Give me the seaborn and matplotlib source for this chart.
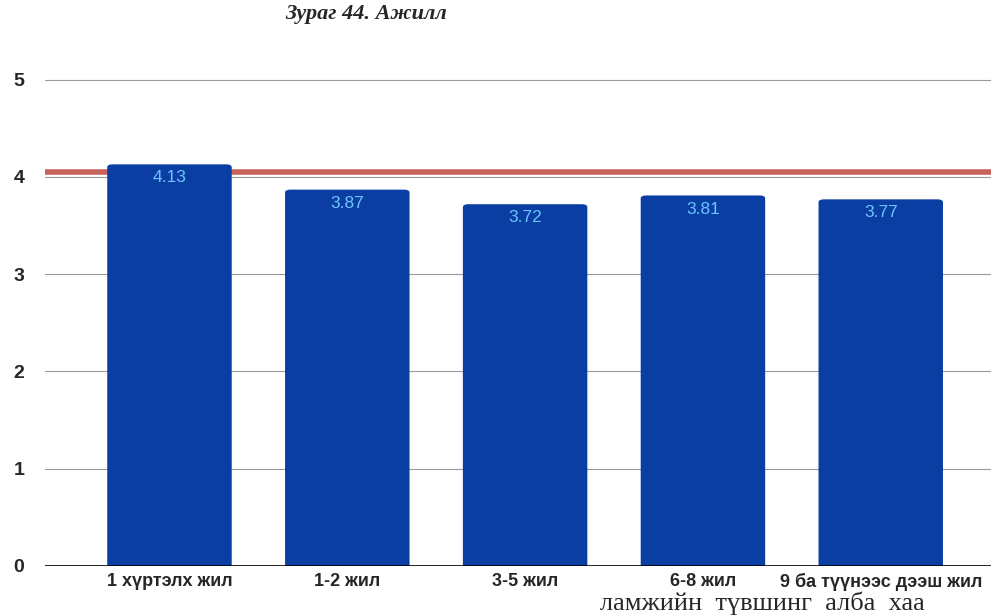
import matplotlib
matplotlib.use("Agg")
import matplotlib.pyplot as plt
import seaborn as sns
import pandas as pd
from matplotlib.patches import FancyBboxPatch

categories = ["1 хүртэлх жил", "1-2 жил", "3-5 жил", "6-8 жил", "9 ба түүнээс дээш жил"]
scores = [4.13, 3.87, 3.72, 3.81, 3.77]
reference_level = 4.05
y_ticks = [0, 1, 2, 3, 4, 5]

sns.set_theme(style="white")
plt.rcParams["font.family"] = ["Liberation Sans", "DejaVu Sans"]

df = pd.DataFrame({"category": categories, "score": scores})

fig = plt.figure(figsize=(9.91, 6.16), dpi=100)
bottom_px, top_px = 566, 70
ax = fig.add_axes([45 / 991, (616 - bottom_px) / 616, 946 / 991,
                   (bottom_px - top_px) / 616])

bar_color = "#0b3ea3"
sns.barplot(data=df, x="category", y="score", color=bar_color, width=0.7,
            saturation=1, ax=ax, zorder=3)

# rounded top corners on each bar, value printed just under the top
for p in list(ax.patches):
    x, w, h = p.get_x(), p.get_width(), p.get_height()
    p.set_visible(False)
    ax.add_patch(FancyBboxPatch((x + 0.02, 0), w - 0.04, h - 0.02,
                                boxstyle="round,pad=0.02,rounding_size=0.03",
                                facecolor=bar_color, edgecolor="none", zorder=3))
    ax.text(x + w / 2, h - 0.14, f"{h:.2f}", ha="center", va="center",
            color="#6cc4ff", fontsize=12.5, zorder=4)

ax.axhline(reference_level, color="#c8625c", lw=4, zorder=2)

ax.set_xlim(-0.7, 4.62)
ax.set_ylim(0, 5.1)
ax.set_yticks(y_ticks)
ax.set_yticklabels([str(t) for t in y_ticks], fontsize=14, fontweight="bold")
ax.tick_params(axis="y", length=0, pad=15)
ax.grid(axis="y", color="#9a9a9a", lw=0.8, zorder=0)
ax.axhline(0, color="black", lw=1.2, zorder=4)
for s in ax.spines.values():
    s.set_visible(False)
ax.set_xlabel("")
ax.set_ylabel("")
ax.set_xticks(range(len(categories)))
ax.set_xticklabels(categories, fontsize=13, fontweight="bold")
ax.tick_params(axis="x", length=0, pad=5)

fig.text(285 / 991, 1 - 14 / 616, "Зураг 44. Ажилл", ha="left", va="center",
         fontsize=16, fontweight="bold", fontstyle="italic",
         family=["Liberation Serif", "DejaVu Serif"])
fig.text(600 / 991, 1 - 603 / 616, "ламжийн  түвшинг  алба  хаа", ha="left",
         va="center", fontsize=19, family=["Liberation Serif", "DejaVu Serif"])

fig.savefig("out.png", dpi=100)
